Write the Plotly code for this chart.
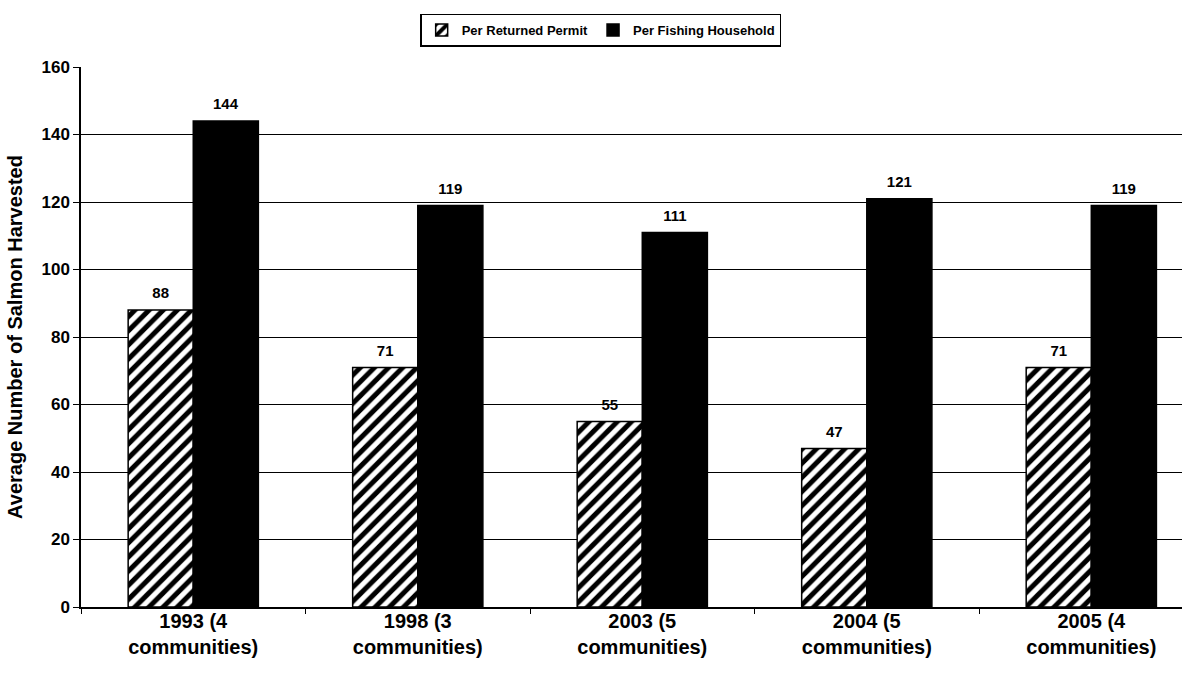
import plotly.graph_objects as go

categories = ["1993 (4<br>communities)", "1998 (3<br>communities)", "2003 (5<br>communities)",
              "2004 (5<br>communities)", "2005 (4<br>communities)"]
per_returned_permit = [88, 71, 55, 47, 71]
per_fishing_household = [144, 119, 111, 121, 119]
y_ticks = [0, 20, 40, 60, 80, 100, 120, 140, 160]

FONT = "Liberation Sans, Arial, sans-serif"
# value label: bold 15px number over a small spacer line that lifts it off the bar
LABEL = "<span style='font-size:15px'><b>%{text}</b></span><br> "

fig = go.Figure()
fig.add_trace(go.Bar(
    name="<b>Per Returned Permit</b>",
    x=categories, y=per_returned_permit,
    marker=dict(color="white", line=dict(color="black", width=1.5),
                pattern=dict(shape="/", fgcolor="black", bgcolor="white", fgopacity=1,
                             size=10, solidity=0.5)),
    text=per_returned_permit, texttemplate=LABEL, textposition="outside",
    textfont=dict(size=6, color="black", family=FONT), cliponaxis=False,
))
fig.add_trace(go.Bar(
    name="<b>Per Fishing Household</b>",
    x=categories, y=per_fishing_household,
    marker=dict(color="black", line=dict(color="black", width=1.5)),
    text=per_fishing_household, texttemplate=LABEL, textposition="outside",
    textfont=dict(size=6, color="black", family=FONT), cliponaxis=False,
))

fig.update_layout(
    width=1199, height=680,
    margin=dict(l=81, r=17, t=67, b=73),
    plot_bgcolor="white", paper_bgcolor="white",
    barmode="group", bargap=0.42, bargroupgap=0,
    font=dict(family=FONT, color="black"),
    legend=dict(orientation="h", x=0.472, xanchor="center", y=1.099, yanchor="top",
                bordercolor="black", borderwidth=1.5, font=dict(size=13, family=FONT),
                itemwidth=30, tracegroupgap=0),
    xaxis=dict(range=[-0.5, 4.404], showline=True, linecolor="black", linewidth=1.5,
               ticks="outside", tickson="boundaries", ticklen=5, tickcolor="black",
               ticklabelstandoff=-5,
               tickvals=categories, ticktext=[f"<b>{c}</b>" for c in categories],
               tickfont=dict(size=20, family=FONT), showgrid=False),
    yaxis=dict(range=[0, 160], tickvals=y_ticks, ticktext=[f"<b>{v}</b>" for v in y_ticks],
               showline=True, linecolor="black", linewidth=1.5, ticks="outside", ticklen=6,
               tickcolor="black", tickfont=dict(size=17, family=FONT),
               showgrid=True, gridcolor="black", gridwidth=1, zeroline=False,
               title=dict(text="<b>Average Number of Salmon Harvested</b>",
                          font=dict(size=20, family=FONT), standoff=13)),
)

fig.write_html("out.html")
